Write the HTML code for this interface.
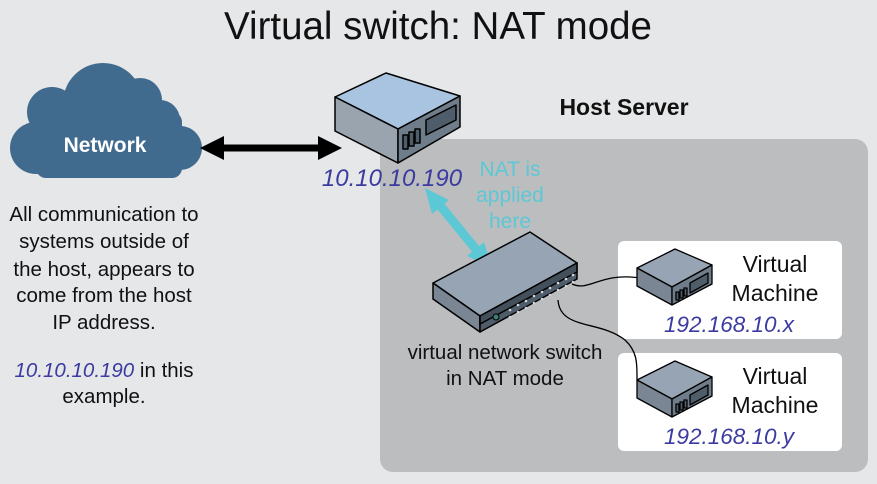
<!DOCTYPE html>
<html><head><style>
body{margin:0;width:877px;height:479px;overflow:hidden;background:#e6e7e9;}
text{font-family:"Liberation Sans",Arial,sans-serif;}
</style></head><body>
<svg width="877" height="479" viewBox="0 0 877 479">
<rect width="877" height="479" fill="#e6e7e9"/>
<text x="438" y="39" font-size="38.5" text-anchor="middle" fill="#111">Virtual switch: NAT mode</text>
<rect x="380" y="139" width="488" height="333" rx="13" fill="#bcbdbf"/>
<text x="624" y="115" font-size="23" font-weight="bold" text-anchor="middle" fill="#111">Host Server</text>
<!-- cloud -->
<g fill="#406a8e">
<circle cx="52" cy="112" r="25"/>
<circle cx="103" cy="103" r="40"/>
<circle cx="140" cy="100" r="22"/>
<circle cx="160" cy="120" r="20"/>
<circle cx="180" cy="148" r="22"/>
<circle cx="36" cy="148" r="26"/>
<rect x="36" y="112" width="146" height="66" rx="10"/>
</g>
<text x="105" y="152" font-size="21" font-weight="bold" fill="#fff" text-anchor="middle">Network</text>
<!-- black double arrow -->
<line x1="218" y1="148" x2="320" y2="148" stroke="#000" stroke-width="7"/>
<polygon points="200,148 224,136 224,160" fill="#000"/>
<polygon points="342,148 318,136 318,160" fill="#000"/>
<!-- left text -->
<g font-size="20.5" fill="#111" text-anchor="middle">
<text x="104" y="221">All communication to</text>
<text x="104" y="248">systems outside of</text>
<text x="104" y="276">the host, appears to</text>
<text x="104" y="302">come from the host</text>
<text x="104" y="329">IP address.</text>
<text x="104" y="377"><tspan fill="#3b3ba0" font-style="italic">10.10.10.190</tspan> in this</text>
<text x="104" y="403">example.</text>
</g>
<!-- server -->
<g stroke="#000" stroke-width="1.5" stroke-linejoin="round">
<polygon points="335,97 386,73 460,96 398,129" fill="#a8c4e0"/>
<polygon points="335,97 398,129 398,163 335,131" fill="#9aa4ae"/>
<polygon points="398,129 460,96 460,127 398,163" fill="#6f7c89"/>
<polygon points="426,120 456,105 456,120 426,135" fill="#4f5d6a"/>
<rect x="403" y="135" width="5" height="14" fill="#4f5d6a"/>
<rect x="409" y="132" width="5" height="14" fill="#4f5d6a"/>
<rect x="415" y="129" width="5" height="14" fill="#4f5d6a"/>
</g>
<text x="392" y="186" font-size="24" font-style="italic" fill="#3b3ba0" text-anchor="middle">10.10.10.190</text>
<!-- NAT text -->
<g font-size="21" fill="#5cc8d6" text-anchor="middle">
<text x="510" y="176">NAT is</text><text x="510" y="202">applied</text><text x="510" y="228">here</text>
</g>
<!-- cyan arrow -->
<line x1="438" y1="203" x2="483" y2="258" stroke="#5cc8d6" stroke-width="9"/>
<polygon points="425,188 449,200 432,214" fill="#5cc8d6"/>
<polygon points="492,268 467,256 484,242" fill="#5cc8d6"/>
<!-- VM boxes -->
<rect x="618" y="241" width="224" height="98" rx="6" fill="#fff"/>
<rect x="618" y="353" width="224" height="98" rx="6" fill="#fff"/>
<!-- cables -->
<path d="M572,284 C590,292 600,272 640,278" stroke="#000" fill="none" stroke-width="1.3"/>
<path d="M558,300 C560,330 600,320 625,340 C638,352 637,365 637,380" stroke="#000" fill="none" stroke-width="1.3"/>
<!-- switch -->
<g stroke="#000" stroke-width="1.5" stroke-linejoin="round">
<polygon points="433,283 530,232 577,263 480,316" fill="#97a4b3"/>
<polygon points="433,283 480,316 480,332 433,299" fill="#7a8694"/>
<polygon points="480,316 577,263 577,279 480,332" fill="#4f5d6a"/>
<polygon points="480,316 577,263 577,272 480,324" fill="#434f5b"/>
</g>
<circle cx="496" cy="317" r="3" fill="#3a8070" stroke="#000"/>
<g fill="#cfd6de">
<circle cx="510" cy="317" r="1.3"/><circle cx="518" cy="312" r="1.3"/><circle cx="526" cy="308" r="1.3"/><circle cx="534" cy="303" r="1.3"/><circle cx="542" cy="299" r="1.3"/><circle cx="550" cy="295" r="1.3"/><circle cx="558" cy="290" r="1.3"/><circle cx="566" cy="286" r="1.3"/><circle cx="573" cy="282" r="1.3"/>
<circle cx="510" cy="310" r="1.3"/><circle cx="518" cy="305" r="1.3"/><circle cx="526" cy="301" r="1.3"/><circle cx="534" cy="296" r="1.3"/><circle cx="542" cy="292" r="1.3"/><circle cx="550" cy="288" r="1.3"/><circle cx="558" cy="283" r="1.3"/><circle cx="566" cy="279" r="1.3"/><circle cx="573" cy="275" r="1.3"/>
</g>
<g font-size="20.5" fill="#111" text-anchor="middle">
<text x="505" y="359">virtual network switch</text><text x="505" y="385">in NAT mode</text>
</g>
<g id="vm" stroke="#000" stroke-width="1.3" stroke-linejoin="round">
<polygon points="637,268 675,249 712,265 672,287" fill="#97a4b3"/>
<polygon points="637,268 672,287 672,305 637,286" fill="#7a8694"/>
<polygon points="672,287 712,265 712,284 672,305" fill="#6f7c89"/>
<polygon points="690,283 708,273 708,283 690,293" fill="#4f5d6a"/>
<rect x="676" y="292" width="3" height="8" fill="#4f5d6a"/><rect x="680" y="290" width="3" height="8" fill="#4f5d6a"/><rect x="684" y="288" width="3" height="8" fill="#4f5d6a"/>
</g>
<use href="#vm" y="112"/>
<g font-size="23" fill="#111" text-anchor="middle">
<text x="775" y="272">Virtual</text><text x="775" y="301">Machine</text>
<text x="775" y="384">Virtual</text><text x="775" y="413">Machine</text>
</g>
<g font-size="22.5" font-style="italic" fill="#3b3ba0" text-anchor="middle">
<text x="729" y="332">192.168.10.x</text><text x="729" y="444">192.168.10.y</text>
</g>
</svg>
</body></html>
